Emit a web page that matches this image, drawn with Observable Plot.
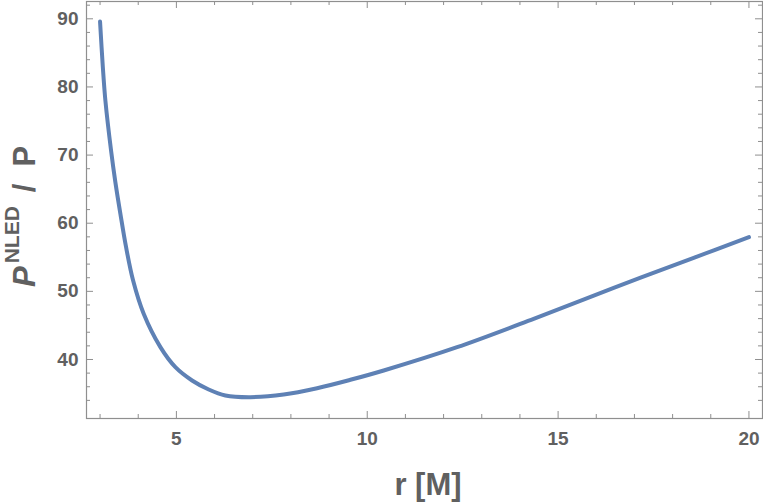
<!DOCTYPE html>
<html>
<head>
<meta charset="utf-8">
<script src="https://cdn.jsdelivr.net/npm/d3@7"></script>
<script src="https://cdn.jsdelivr.net/npm/@observablehq/plot@0.6"></script>
<style>
  html, body { margin: 0; padding: 0; background: #fff; }
  #chart svg { display: block; }
</style>
</head>
<body>
<div id="chart"></div>
<script>
// ---- data ----
const rValues = [3.0, 3.073, 3.14, 3.29, 3.402, 3.533, 3.682, 3.866, 4.143, 4.581, 4.974, 5.411, 5.846, 6.284, 6.939, 7.811, 8.686, 9.559, 10.431, 12.354, 14.36, 16.457, 18.553, 20.0];
const ratioValues = [89.6, 82.9, 78.0, 70.6, 66.0, 61.38, 56.48, 51.59, 46.71, 41.81, 38.87, 36.92, 35.6, 34.72, 34.47, 34.86, 35.79, 37.02, 38.39, 41.81, 45.97, 50.52, 54.93, 57.95];

const xMajorTicks = [5, 10, 15, 20];
const xMinorTicks = [3, 4, 6, 7, 8, 9, 11, 12, 13, 14, 16, 17, 18, 19];
const yMajorTicks = [40, 50, 60, 70, 80, 90];
const yMinorTicks = [34, 36, 38, 42, 44, 46, 48, 52, 54, 56, 58, 62, 64, 66, 68, 72, 74, 76, 78, 82, 84, 86, 88, 92];

const xLabel = "r [M]";
const yLabelParts = {main: "P", sup: "NLED", sep: "/", denom: "P"};

// ---- layout ----
const W = 763, H = 504;
const mTop = 1, mRight = 1, mBottom = 86, mLeft = 86;
const plotW = W - mLeft - mRight;
const plotH = H - mTop - mBottom;
const frameColor = "#8f8f8f";
const textColor = "#606060";
const majorLen = 7, minorLen = 4;

const data = rValues.map((r, i) => ({r, v: ratioValues[i]}));

const tickRules = (vals, len, side) => {
  if (side === "bottom") return Plot.ruleX(vals, {stroke: frameColor, strokeWidth: 1, insetTop: plotH - len});
  if (side === "top") return Plot.ruleX(vals, {stroke: frameColor, strokeWidth: 1, insetBottom: plotH - len});
  if (side === "left") return Plot.ruleY(vals, {stroke: frameColor, strokeWidth: 1, insetRight: plotW - len});
  return Plot.ruleY(vals, {stroke: frameColor, strokeWidth: 1, insetLeft: plotW - len});
};

const chart = Plot.plot({
  width: W,
  height: H,
  marginTop: mTop,
  marginRight: mRight,
  marginBottom: mBottom,
  marginLeft: mLeft,
  style: {fontFamily: "'Liberation Sans', Arial, sans-serif", background: "#fff"},
  x: {domain: [2.645, 20.355]},
  y: {domain: [31.34, 92.54]},
  marks: [
    tickRules(xMajorTicks, majorLen, "bottom"),
    tickRules(xMajorTicks, majorLen, "top"),
    tickRules(xMinorTicks, minorLen, "bottom"),
    tickRules(xMinorTicks, minorLen, "top"),
    tickRules(yMajorTicks, majorLen, "left"),
    tickRules(yMajorTicks, majorLen, "right"),
    tickRules(yMinorTicks, minorLen, "left"),
    tickRules(yMinorTicks, minorLen, "right"),
    Plot.axisX(xMajorTicks, {tickSize: 0, tickPadding: 13, label: null, fontSize: 19, fontWeight: "bold", fill: textColor}),
    Plot.axisY(yMajorTicks, {tickSize: 0, tickPadding: 8, label: null, fontSize: 19, fontWeight: "bold", fill: textColor}),
    Plot.line(data, {x: "r", y: "v", stroke: "#5e81b5", strokeWidth: 4, curve: "catmull-rom"}),
    Plot.frame({stroke: frameColor, strokeWidth: 1.2})
  ]
});

const svg = d3.select(chart);

// x axis title
svg.append("text")
  .attr("x", 428)
  .attr("y", 495)
  .attr("text-anchor", "middle")
  .attr("font-family", "'Liberation Sans', Arial, sans-serif")
  .attr("font-weight", "bold")
  .attr("font-size", 31)
  .attr("fill", textColor)
  .text(xLabel);

// y axis title (rotated)
const yt = svg.append("text")
  .attr("transform", "translate(35,287) rotate(-90)")
  .attr("text-anchor", "start")
  .attr("font-family", "'Liberation Sans', Arial, sans-serif")
  .attr("font-weight", "bold")
  .attr("font-size", 31)
  .attr("fill", textColor);
yt.append("tspan").attr("font-style", "italic").text(yLabelParts.main);
yt.append("tspan").attr("font-size", 21).attr("dx", 3).attr("dy", -16).text(yLabelParts.sup);
yt.append("tspan").attr("dx", 14).attr("dy", 16).text(yLabelParts.sep);
yt.append("tspan").attr("dx", 17).text(yLabelParts.denom);

document.getElementById("chart").appendChild(chart);
</script>
</body>
</html>
